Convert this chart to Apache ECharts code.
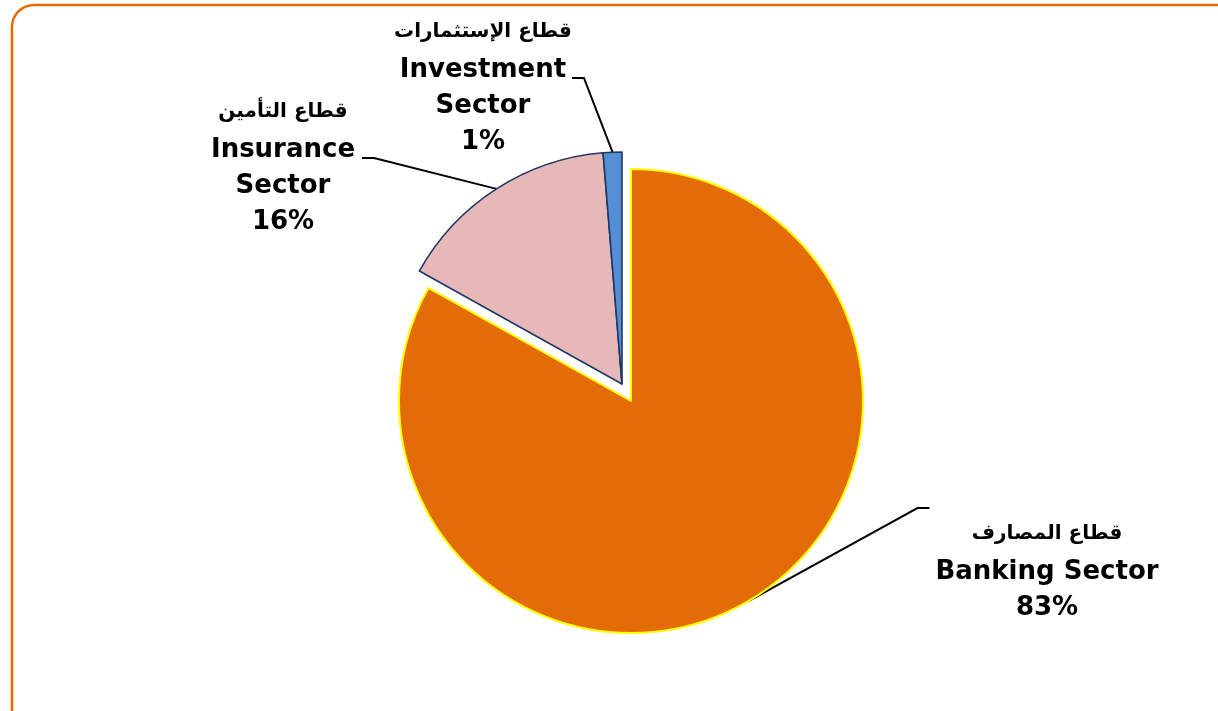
<!DOCTYPE html>
<html>
<head>
<meta charset="utf-8">
<script src="https://cdn.jsdelivr.net/npm/echarts@6/dist/echarts.min.js"></script>
<style>html,body{margin:0;padding:0;background:#fff;}#c{width:1218px;height:711px;}</style>
</head>
<body>
<div id="c"></div>
<script>
const namesEn = ['Banking Sector', 'Insurance Sector', 'Investment Sector'];
const namesAr = ['قطاع المصارف', 'قطاع التأمين', 'قطاع الإستثمارات'];
const values = [83.1, 15.6, 1.3];

const colors = ['#E36C09', '#E6B9B8', '#558ED5'];
const borders = ['#FFFF00', '#1F3864', '#1F3864'];
// label box centre (including padding) and padding [top, right, bottom, left]
const labelPos = [[1044, 508], [286.5, 158], [483, 78]];
const labelPad = [[124, 0, 0, 6], [16, 7, 0, 0], [16, 0, 0, 0]];

function enLines(n) {
  return n === 'Insurance Sector' ? 'Insurance\nSector' : (n === 'Investment Sector' ? 'Investment\nSector' : n);
}

function buildData(visibleSet) {
  return values.map(function (v, i) {
    const vis = visibleSet.indexOf(i) >= 0;
    return {
      value: v,
      name: namesEn[i],
      itemStyle: vis ? { color: colors[i], borderColor: borders[i], borderWidth: i === 0 ? 2 : 1.6 }
                     : { color: 'rgba(0,0,0,0)', borderWidth: 0 },
      label: { show: vis, padding: labelPad[i], backgroundColor: 'rgba(255,255,255,0)' },
      labelLine: { show: vis }
    };
  });
}

function labelFormatter(p) {
  const i = p.dataIndex;
  const en = enLines(namesEn[i]).split('\n').map(function (s) { return '{en|' + s + '}'; }).join('\n');
  return '{ar|' + namesAr[i] + '}\n' + en + '\n{en|' + p.percent + '%}';
}

const labelCommon = {
  position: 'outside',
  formatter: labelFormatter,
  color: '#000',
  align: 'center',
  rich: {
    ar: { fontFamily: 'DejaVu Sans', fontWeight: 'bold', fontSize: 20, lineHeight: 40, color: '#000', align: 'center' },
    en: { fontFamily: 'DejaVu Sans', fontWeight: 'bold', fontSize: 26, lineHeight: 36, color: '#000', align: 'center' }
  }
};

const labelLineCommon = { show: true, length: 20, length2: 12, lineStyle: { color: '#000', width: 2 } };

function layoutFn(p) {
  const pos = labelPos[p.dataIndex];
  return { x: pos[0], y: pos[1], align: 'center', verticalAlign: 'middle' };
}

const chart = echarts.init(document.getElementById('c'), null, { renderer: 'canvas' });
chart.setOption({
  animation: false,
  backgroundColor: '#fff',
  graphic: [{
    type: 'rect',
    shape: { x: 12, y: 5, width: 1228, height: 730, r: 22 },
    style: { fill: 'none', stroke: '#E36C09', lineWidth: 2.5 },
    silent: true
  }],
  series: [
    {
      type: 'pie',
      center: [631, 401],
      radius: 232,
      startAngle: 90,
      clockwise: true,
      percentPrecision: 0,
      avoidLabelOverlap: false,
      emphasis: { disabled: true },
      label: labelCommon,
      labelLine: labelLineCommon,
      labelLayout: layoutFn,
      data: buildData([0])
    },
    {
      type: 'pie',
      center: [622, 384],
      radius: 232,
      startAngle: 90,
      clockwise: true,
      percentPrecision: 0,
      avoidLabelOverlap: false,
      emphasis: { disabled: true },
      label: labelCommon,
      labelLine: labelLineCommon,
      labelLayout: layoutFn,
      data: buildData([1, 2])
    }
  ]
});
</script>
</body>
</html>
